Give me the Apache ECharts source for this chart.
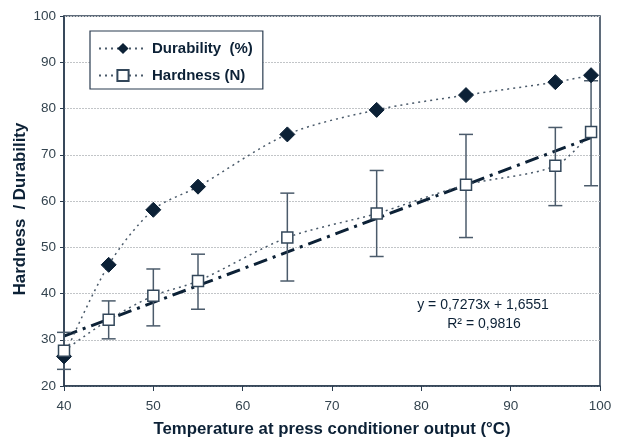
<!DOCTYPE html>
<html>
<head>
<meta charset="utf-8">
<script src="https://cdn.jsdelivr.net/npm/echarts@6/dist/echarts.min.js"></script>
<style>
html,body{margin:0;padding:0;background:#fff;}
#chart{width:621px;height:437px;}
</style>
</head>
<body>
<div id="chart"></div>
<script>
var temperatures = [40, 45, 50, 55, 65, 75, 85, 95, 99];
var durability = [26.4, 46.2, 58.1, 63.1, 74.4, 79.7, 82.9, 85.7, 87.2];
var hardness = [27.6, 34.3, 39.5, 42.7, 52.1, 57.3, 63.5, 67.6, 74.9];
var hardnessLow = [23.6, 30.2, 33.0, 36.6, 42.7, 48.0, 52.1, 59.0, 63.3];
var hardnessHigh = [31.6, 38.4, 45.3, 48.5, 61.7, 66.6, 74.4, 75.9, 86.0];
var trendX = [40, 99];
var trendY = [30.8, 73.7];
var trendText = ['y = 0,7273x + 1,6551', 'R\u00B2 = 0,9816'];
var xTicks = [40, 50, 60, 70, 80, 90, 100];
var yTicks = [20, 30, 40, 50, 60, 70, 80, 90, 100];
var yTitle = 'Hardness  / Durability';
var xTitle = 'Temperature at press conditioner output (\u00B0C)';

var dark = '#0c2136';
var axisCol = '#2b3d50';
var font = 'Liberation Sans, Arial, sans-serif';

var chart = echarts.init(document.getElementById('chart'), null, {renderer: 'canvas'});

function pairs(xs, ys) { return xs.map(function (x, i) { return [x, ys[i]]; }); }

var errData = temperatures.map(function (t, i) { return [t, hardnessLow[i], hardnessHigh[i]]; });

var option = {
  animation: false,
  backgroundColor: '#fff',
  textStyle: {fontFamily: font},
  grid: {left: 64, right: 21, top: 16, bottom: 51, containLabel: false, outerBoundsMode: 'none',
         show: true, borderColor: axisCol, borderWidth: 1.5, backgroundColor: 'transparent'},
  xAxis: {
    type: 'value', min: xTicks[0], max: xTicks[xTicks.length - 1], interval: 10,
    name: xTitle,
    nameLocation: 'middle', nameGap: 35,
    nameTextStyle: {fontFamily: font, fontSize: 16.8, fontWeight: 'bold', color: dark},
    axisLine: {show: true, lineStyle: {color: axisCol, width: 1.5}},
    axisTick: {show: true, length: 5, lineStyle: {color: axisCol}},
    axisLabel: {fontFamily: font, fontSize: 13.5, color: '#34444f', margin: 13},
    splitLine: {show: false}
  },
  yAxis: {
    type: 'value', min: yTicks[0], max: yTicks[yTicks.length - 1], interval: 10,
    axisLine: {show: true, lineStyle: {color: axisCol, width: 1.5}},
    axisTick: {show: true, length: 4, lineStyle: {color: axisCol}},
    axisLabel: {fontFamily: font, fontSize: 13.5, color: '#34444f', margin: 8},
    splitLine: {show: true, lineStyle: {color: '#c2c5c8', type: [2, 1], width: 1}}
  },
  legend: {
    left: 90, top: 31, width: 172, orient: 'vertical',
    backgroundColor: '#fff', borderColor: axisCol, borderWidth: 1.2,
    padding: [10, 10, 6, 8], itemGap: 12, itemWidth: 48, itemHeight: 14,
    textStyle: {fontFamily: font, fontSize: 15, fontWeight: 'bold', color: dark},
    data: ['Durability  (%)', 'Hardness (N)']
  },
  series: [
    {
      name: 'trend', type: 'line', data: pairs(trendX, trendY), symbol: 'none', z: 3,
      lineStyle: {color: dark, width: 3, type: [14, 6, 3, 6]}, silent: true
    },
    {
      name: 'errors', type: 'custom', data: errData, z: 4,
      renderItem: function (params, api) {
        var x = api.value(0);
        var lo = api.coord([x, api.value(1)]);
        var hi = api.coord([x, api.value(2)]);
        var w = 7;
        var st = {stroke: '#4b5b6b', lineWidth: 1.5};
        return {type: 'group', children: [
          {type: 'line', shape: {x1: lo[0], y1: lo[1], x2: hi[0], y2: hi[1]}, style: st},
          {type: 'line', shape: {x1: lo[0] - w, y1: lo[1], x2: lo[0] + w, y2: lo[1]}, style: st},
          {type: 'line', shape: {x1: hi[0] - w, y1: hi[1], x2: hi[0] + w, y2: hi[1]}, style: st}
        ]};
      }
    },
    {
      name: 'Durability  (%)', type: 'line', data: pairs(temperatures, durability), smooth: 0.3, z: 5,
      symbol: 'diamond', symbolSize: 15,
      itemStyle: {color: dark, borderColor: dark},
      lineStyle: {color: '#4a5a6a', width: 1.5, type: [2, 4]}
    },
    {
      name: 'Hardness (N)', type: 'line', data: pairs(temperatures, hardness), smooth: 0.3, z: 6,
      symbol: 'rect', symbolSize: 11,
      itemStyle: {color: '#fff', borderColor: '#33475a', borderWidth: 1.5},
      lineStyle: {color: '#4a5a6a', width: 1.5, type: [2, 4]}
    }
  ],
  graphic: [
    {type: 'text', x: 20, y: 209, rotation: Math.PI / 2,
     style: {text: yTitle, fontFamily: font, fontSize: 16.8, fontWeight: 'bold', fill: dark, align: 'center', verticalAlign: 'middle'}},
    {type: 'text', x: 483, y: 305, style: {text: trendText[0], fontFamily: font, fontSize: 14, fill: dark, align: 'center', verticalAlign: 'middle'}},
    {type: 'text', x: 484, y: 324, style: {text: trendText[1], fontFamily: font, fontSize: 14, fill: dark, align: 'center', verticalAlign: 'middle'}}
  ]
};
chart.setOption(option);
</script>
</body>
</html>
